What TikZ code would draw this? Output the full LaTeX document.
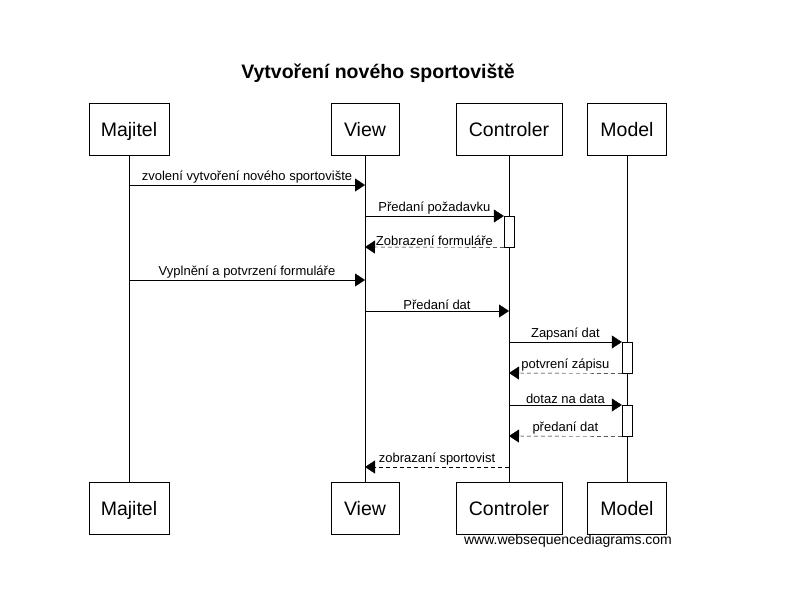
\documentclass[tikz,border=0pt]{standalone}
\usepackage{fontspec}
\setmainfont{Liberation Sans}
\usetikzlibrary{arrows.meta}

\begin{document}
\begin{tikzpicture}[
    x=1pt, y=-1pt,
    actor/.style={draw=black, fill=white, minimum height=52pt, inner sep=0pt, text height=14pt, text depth=0pt, font=\fontsize{19.5}{22}\selectfont},
    lifeline/.style={draw=black},
    actbar/.style={draw=black, fill=white, minimum width=10pt, inner sep=0pt, anchor=north},
    msg/.style={draw=black, -{Triangle[length=10pt,width=13pt]}},
    reply/.style={msg, dash pattern=on 4pt off 3pt},
    lbl/.style={midway, above, inner sep=1.5pt, font=\fontsize{13}{15}\selectfont}
    ]

    \useasboundingbox (0,0) rectangle (788,606);

    \node[font=\bfseries\fontsize{19.5}{22}\selectfont] (title) at (378,73) {Vytvoření nového sportoviště};

    % top boxes
    \node[actor, minimum width=80pt] (mj) at (129,129) {Majitel};
    \node[actor, minimum width=68pt] (vw) at (365,129) {View};
    \node[actor, minimum width=106pt] (ct) at (509,129) {Controler};
    \node[actor, minimum width=79pt] (md) at (627,129) {Model};

    % bottom boxes
    \node[actor, minimum width=80pt] (mj2) at (129,508) {Majitel};
    \node[actor, minimum width=68pt] (vw2) at (365,508) {View};
    \node[actor, minimum width=106pt] (ct2) at (509,508) {Controler};
    \node[actor, minimum width=79pt] (md2) at (627,508) {Model};

    % lifelines
    \draw[lifeline] (mj) -- (mj2);
    \draw[lifeline] (vw) -- (vw2);
    \draw[lifeline] (ct) -- (ct2);
    \draw[lifeline] (md) -- (md2);

    % message levels
    \coordinate (m1) at (0,185);
    \coordinate (m2) at (0,216);
    \coordinate (m3) at (0,247);
    \coordinate (m4) at (0,280);
    \coordinate (m5) at (0,311);
    \coordinate (m6) at (0,342);
    \coordinate (m7) at (0,373);
    \coordinate (m8) at (0,405);
    \coordinate (m9) at (0,436);
    \coordinate (m10) at (0,467);

    % activations
    \node[actbar, minimum height=31pt] (ctact) at (ct.south |- m2) {};
    \node[actbar, minimum height=31pt] (mdact1) at (md.south |- m6) {};
    \node[actbar, minimum height=31pt] (mdact2) at (md.south |- m8) {};

    % messages
    \draw[msg] (mj.south |- m1) -- (vw.south |- m1) node[lbl] {zvolení vytvoření nového sportovište};
    \draw[msg] (vw.south |- m2) -- (ctact.north west) node[lbl] {Předaní požadavku};
    \draw[reply] (ctact.south west) -- (vw.south |- m3) node[lbl] {Zobrazení formuláře};
    \draw[msg] (mj.south |- m4) -- (vw.south |- m4) node[lbl] {Vyplnění a potvrzení formuláře};
    \draw[msg] (vw.south |- m5) -- (ct.south |- m5) node[lbl] {Předaní dat};
    \draw[msg] (ct.south |- m6) -- (mdact1.north west) node[lbl] {Zapsaní dat};
    \draw[reply] (mdact1.south west) -- (ct.south |- m7) node[lbl] {potvrení zápisu};
    \draw[msg] (ct.south |- m8) -- (mdact2.north west) node[lbl] {dotaz na data};
    \draw[reply] (mdact2.south west) -- (ct.south |- m9) node[lbl] {předaní dat};
    \draw[reply] (ct.south |- m10) -- (vw.south |- m10) node[lbl] {zobrazaní sportovist};

    \node[font=\fontsize{14}{16}\selectfont] (wsd) at (568,541) {www.websequencediagrams.com};

\end{tikzpicture}
\end{document}
